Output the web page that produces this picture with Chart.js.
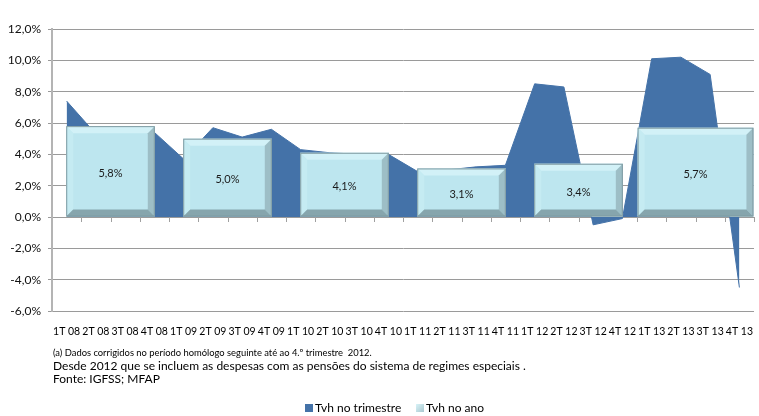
<!DOCTYPE html>
<html>
<head>
<meta charset="utf-8">
<script src="https://cdn.jsdelivr.net/npm/chart.js@4/dist/chart.umd.min.js"></script>
<style>
  body { margin: 0; background: #fff; font-family: Lato, "Open Sans", sans-serif; }
  #wrap { position: relative; width: 759px; height: 416px; }
  .note { position: absolute; left: 53px; color: #000; white-space: nowrap; }
  .legend { position: absolute; top: 400px; font-size: 12px; color: #000; white-space: nowrap; }
  .legend span.box { display: inline-block; width: 8px; height: 8px; margin-right: 2px; }
</style>
</head>
<body>
<div id="wrap">
  <canvas id="chart" width="759" height="416"></canvas>
  <div class="note" style="top:347px;font-size:9.4px">(a) Dados corrigidos no período homólogo seguinte até ao 4.º trimestre&nbsp; 2012.</div>
  <div class="note" style="top:358px;font-size:12px">Desde 2012 que se incluem as despesas com as pensões do sistema de regimes especiais .</div>
  <div class="note" style="top:371px;font-size:12px">Fonte: IGFSS; MFAP</div>
  <div class="legend" style="left:305px"><span class="box" style="background:#4472a8"></span>Tvh no trimestre</div>
  <div class="legend" style="left:416px"><span class="box" style="background:linear-gradient(135deg,#d8f3f8,#a9c8cf)"></span>Tvh no ano</div>
</div>
<script>
const quarterLabels = [
  '1T 08', '2T 08', '3T 08', '4T 08', '1T 09', '2T 09', '3T 09', '4T 09',
  '1T 10', '2T 10', '3T 10', '4T 10', '1T 11', '2T 11', '3T 11', '4T 11',
  '1T 12', '2T 12', '3T 12', '4T 12', '1T 13', '2T 13', '3T 13', '4T 13'
];
const quarterValues = [
  7.4, 5.3, 5.6, 5.4, 3.7, 5.7, 5.1, 5.6,
  4.3, 4.1, 4.0, 4.0, 2.9, 3.0, 3.2, 3.3,
  8.5, 8.3, -0.5, -0.1, 10.1, 10.2, 9.1, -4.5
];
const yearLabels = ['2008', '2009', '2010', '2011', '2012', '2013'];
const yearValues = [5.8, 5.0, 4.1, 3.1, 3.4, 5.7];

const fmt = v => v.toFixed(1).replace('.', ',') + '%';

function poly(ctx, pts, color) {
  ctx.beginPath();
  ctx.moveTo(pts[0][0], pts[0][1]);
  for (let i = 1; i < pts.length; i++) ctx.lineTo(pts[i][0], pts[i][1]);
  ctx.closePath();
  ctx.fillStyle = color;
  ctx.fill();
}

// small tick marks along the zero line, between the quarters
const zeroTicks = {
  id: 'zeroTicks',
  beforeDatasetsDraw(chart) {
    const ctx = chart.ctx;
    const xs = chart.scales.x;
    const y0 = chart.scales.y.getPixelForValue(0);
    const half = (xs.getPixelForValue(1) - xs.getPixelForValue(0)) / 2;
    ctx.save();
    ctx.strokeStyle = '#a0a0a0';
    ctx.lineWidth = 1;
    for (let i = 1; i <= quarterLabels.length; i++) {
      const x = Math.round(xs.getPixelForValue(i) - half) + 0.5;
      ctx.beginPath();
      ctx.moveTo(x, y0);
      ctx.lineTo(x, y0 + 5);
      ctx.stroke();
    }
    ctx.restore();
  }
};

// bevelled look of the yearly boxes + their labels
const bevel = {
  id: 'bevel',
  afterDatasetsDraw(chart) {
    const ctx = chart.ctx;
    ctx.save();
    chart.data.datasets.forEach((ds, di) => {
      if (ds.type !== 'bar') return;
      const meta = chart.getDatasetMeta(di);
      meta.data.forEach((bar, i) => {
        if (ds.data[i] == null) return;
        const p = bar.getProps(['x', 'y', 'base', 'width'], true);
        const L = p.x - p.width / 2, R = p.x + p.width / 2, T = p.y, B = p.base, b = 7;
        poly(ctx, [[L, T], [R, T], [R - b, T + b], [L + b, T + b]], '#d2f1f7');
        poly(ctx, [[L, T], [L + b, T + b], [L + b, B - b], [L, B]], '#c5ebf2');
        poly(ctx, [[R, T], [R, B], [R - b, B - b], [R - b, T + b]], '#9dbec6');
        poly(ctx, [[L, B], [L + b, B - b], [R - b, B - b], [R, B]], '#86a5ad');
        ctx.strokeStyle = '#7f9aa1';
        ctx.lineWidth = 1;
        ctx.strokeRect(L + 0.5, T + 0.5, R - L - 1, B - T - 1);
        ctx.fillStyle = '#1a1a1a';
        ctx.font = '11px Lato, "Open Sans", sans-serif';
        ctx.textAlign = 'center';
        ctx.textBaseline = 'middle';
        ctx.fillText(fmt(ds.data[i]), p.x, (T + B) / 2 + 2);
      });
    });
    ctx.restore();
  }
};

const barCommon = {
  type: 'bar',
  label: 'Tvh no ano',
  xAxisID: 'x2',
  yAxisID: 'y',
  grouped: false,
  categoryPercentage: 1,
  backgroundColor: '#bde6ef',
  borderWidth: 0,
  order: 1
};

new Chart(document.getElementById('chart'), {
  type: 'bar',
  data: {
    labels: quarterLabels,
    datasets: [
      {
        type: 'line',
        label: 'Tvh no trimestre',
        data: quarterValues,
        xAxisID: 'x',
        yAxisID: 'y',
        fill: 'origin',
        backgroundColor: '#4472a8',
        borderColor: '#4472a8',
        borderWidth: 1,
        pointRadius: 0,
        tension: 0,
        order: 2
      },
      Object.assign({}, barCommon, {
        data: yearValues.map((v, i) => i < yearValues.length - 1 ? v : null),
        barPercentage: 0.757
      }),
      Object.assign({}, barCommon, {
        data: yearValues.map((v, i) => i === yearValues.length - 1 ? v : null),
        barPercentage: 0.99
      })
    ]
  },
  options: {
    responsive: false,
    animation: false,
    layout: { padding: { left: 0, top: 29, right: 1, bottom: 75 } },
    plugins: {
      legend: { display: false },
      tooltip: { enabled: false }
    },
    scales: {
      x: {
        offset: true,
        grid: { display: false },
        border: { display: false },
        ticks: {
          autoSkip: false,
          maxRotation: 0,
          padding: 6,
          color: '#000',
          font: { family: 'Lato, "Open Sans", sans-serif', size: 10.5 }
        },
        afterFit: scale => { scale.height = 30; }
      },
      x2: {
        type: 'category',
        labels: yearLabels,
        offset: true,
        display: false
      },
      y: {
        min: -6,
        max: 12,
        grid: { color: '#9a9a9a', lineWidth: 1, drawTicks: true, tickLength: 4 },
        border: { color: '#b4b4b4', width: 2 },
        ticks: {
          stepSize: 2,
          padding: 7,
          color: '#111',
          font: { family: 'Lato, "Open Sans", sans-serif', size: 12 },
          callback: v => fmt(v)
        },
        afterFit: scale => { scale.width = 52; }
      }
    }
  },
  plugins: [zeroTicks, bevel]
});
</script>
</body>
</html>
